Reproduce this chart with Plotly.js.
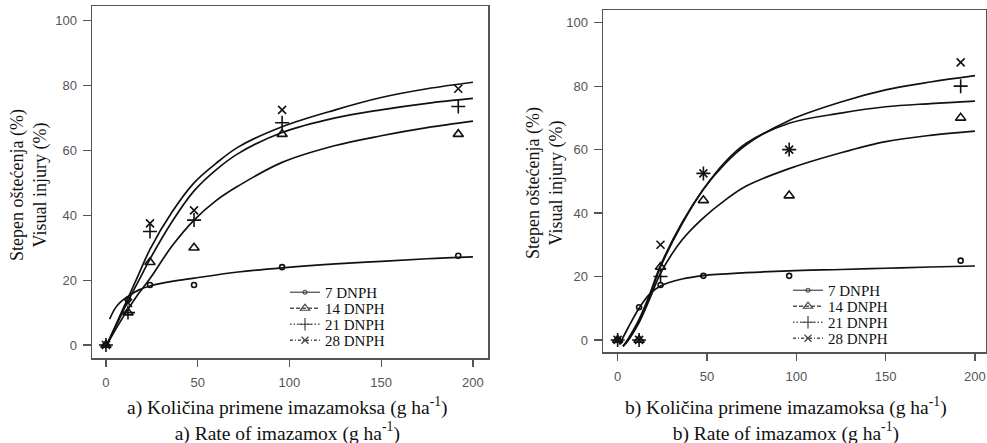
<!DOCTYPE html>
<html>
<head>
<meta charset="utf-8">
<script src="https://cdn.plot.ly/plotly-3.0.1.min.js"></script>
<style>html,body{margin:0;padding:0;background:#fff;}#chart{width:987px;height:443px;}</style>
</head>
<body>
<div id="chart"></div>
<script>
// ---- Data ----
const doses = [0, 12, 24, 48, 96, 192];
const seriesNames = ["7 DNPH", "14 DNPH", "21 DNPH", "28 DNPH"];

// Panel a) observed points
const obsA7  = [0, 14, 18.5, 18.5, 24, 27.5];
const obsA14 = [0, 10, 25.5, 30, 65, 65];
const obsA21 = [0, 10, 35, 38.5, 68.5, 73.5];
const obsA28 = [0, 13, 37.5, 41.5, 72.5, 79];

// Panel b) observed points
const obsB7  = [0, 10.3, 17.3, 20.2, 20.2, 25];
const obsB14 = [0, 0, 23, 44, 45.5, 70];
const obsB21 = [0, 0, 20, 52.5, 60, 80];
const obsB28 = [0, 0, 30, 52.5, 60, 87.5];

// Fitted curves
const fitXA7 = [2, 5, 8, 12, 18, 24, 36, 48, 72, 96, 125, 150, 175, 200];
const fitYA7 = [8, 11.3, 13.3, 15, 17, 18.2, 19.6, 20.6, 22.5, 23.8, 25, 25.8, 26.6, 27.2];
const fitXA = [0, 6, 12, 18, 24, 36, 48, 60, 72, 96, 125, 150, 175, 200];
const fitYA14 = [-0.5, 5.5, 11, 16, 20.5, 30.5, 38.5, 44.5, 49, 56.3, 61.5, 64.5, 67, 69];
const fitYA21 = [-0.5, 6.5, 13.5, 20, 26.5, 38, 47.5, 54, 59, 65.5, 70, 72.5, 74.5, 76];
const fitYA28 = [-0.5, 7, 14.5, 22, 29.5, 41, 50, 56, 61, 67.3, 72.5, 76.3, 79, 81];

const fitXB7 = [1, 6, 12, 18, 24, 36, 48, 72, 96, 125, 150, 175, 200];
const fitYB7 = [-1.5, 4, 10, 14.5, 17, 19.2, 20.3, 21.2, 21.8, 22.2, 22.6, 23, 23.3];
const fitXB = [3, 6, 12, 18, 24, 36, 48, 60, 72, 96, 125, 150, 175, 200];
const fitYB14 = [-2, 0, 5.5, 13, 21, 31.5, 38.5, 44, 48.5, 54, 59, 62.5, 64.5, 65.8];
const fitYB21 = [-2, 0.5, 6.5, 14.5, 23.5, 37, 47.5, 56, 62, 68.3, 71.5, 73.5, 74.5, 75.3];
const fitYB28 = [-2, 0, 6, 14, 23, 36.5, 47.5, 55.5, 61.5, 69.2, 75, 78.8, 81.3, 83.3];

const xTicks = [0, 50, 100, 150, 200];
const yTicks = [0, 20, 40, 60, 80, 100];

// ---- Styles ----
const markerDefs = [
  {symbol: "circle-open", size: 5},
  {symbol: "triangle-up-open", size: 9},
  {symbol: "cross-thin-open", size: 10},
  {symbol: "x-thin-open", size: 8}
];
const legendDash = ["solid", "4px,2px", "1.5px,2px", "3px,2px,1px,2px"];
const obsA = [obsA7, obsA14, obsA21, obsA28];
const obsB = [obsB7, obsB14, obsB21, obsB28];

function curve(x, y, xa, ya) {
  return {x: x, y: y, xaxis: xa, yaxis: ya, mode: "lines", type: "scatter",
    line: {color: "#111", width: 1.7, shape: "spline", smoothing: 1},
    showlegend: false, hoverinfo: "skip"};
}
function points(y, i, xa, ya) {
  return {x: doses, y: y, xaxis: xa, yaxis: ya, mode: "markers", type: "scatter",
    marker: {symbol: markerDefs[i].symbol, size: markerDefs[i].size, color: "#111",
      line: {color: "#111", width: 1.6}},
    showlegend: false};
}
// legend-key traces live on a hidden helper axis pair so only their legend keys show
function legendItem(y, i, xa, ya, leg) {
  return {x: doses, y: y, xaxis: xa, yaxis: ya, mode: "lines+markers", type: "scatter",
    name: seriesNames[i], legend: leg, showlegend: true, cliponaxis: true,
    line: {color: "#555", width: 1.3, dash: legendDash[i]},
    marker: {symbol: markerDefs[i].symbol, size: markerDefs[i].size - 1, color: "#444",
      line: {color: "#444", width: 1.2}}};
}

const traces = [
  curve(fitXA7, fitYA7, "x", "y"),
  curve(fitXA, fitYA14, "x", "y"),
  curve(fitXA, fitYA21, "x", "y"),
  curve(fitXA, fitYA28, "x", "y"),
  points(obsA7, 0, "x", "y"),
  points(obsA14, 1, "x", "y"),
  points(obsA21, 2, "x", "y"),
  points(obsA28, 3, "x", "y"),
  curve(fitXB7, fitYB7, "x2", "y2"),
  curve(fitXB, fitYB14, "x2", "y2"),
  curve(fitXB, fitYB21, "x2", "y2"),
  curve(fitXB, fitYB28, "x2", "y2"),
  points(obsB7, 0, "x2", "y2"),
  points(obsB14, 1, "x2", "y2"),
  points(obsB21, 2, "x2", "y2"),
  points(obsB28, 3, "x2", "y2")
];
for (let i = 0; i < 4; i++) traces.push(legendItem(obsA[i], i, "x3", "y3", "legend"));
for (let i = 0; i < 4; i++) traces.push(legendItem(obsB[i], i, "x3", "y3", "legend2"));

const W = 987, H = 443;
const px = v => v / W;
const py = v => 1 - v / H;
const tickFont = {family: "Liberation Sans, Arial, sans-serif", size: 13, color: "#555"};
const titleFontY = {family: "Liberation Serif, Times New Roman, serif", size: 18, color: "#111"};
const titleFontX = {family: "Liberation Serif, Times New Roman, serif", size: 19.5, color: "#111"};
const legFont = {family: "Liberation Serif, Times New Roman, serif", size: 15, color: "#111"};
const LEGEND_STEP = 16;

function xAxis(domain, range, anchor) {
  return {domain: domain, range: range, anchor: anchor, tickvals: xTicks, ticks: "outside",
    ticklen: 7, tickwidth: 1.2, tickcolor: "#555", showline: true, mirror: true,
    linecolor: "#555", linewidth: 1.5, showgrid: false, zeroline: false,
    tickfont: tickFont, ticklabelstandoff: 5, fixedrange: true};
}
function yAxis(domain, range, anchor) {
  return {domain: domain, range: range, anchor: anchor, tickvals: yTicks, ticks: "outside",
    ticklen: 8, tickwidth: 1.2, tickcolor: "#555", showline: true, mirror: true,
    linecolor: "#555", linewidth: 1.5, showgrid: false, zeroline: false,
    tickfont: tickFont, ticklabelstandoff: 3, fixedrange: true};
}

const layout = {
  width: W, height: H, margin: {l: 0, r: 0, t: 0, b: 0},
  paper_bgcolor: "#fff", plot_bgcolor: "#fff", showlegend: true,
  xaxis: xAxis([px(92), px(488)], [-7.6, 208.2], "y"),
  yaxis: yAxis([1 - 358 / H, 1 - 6 / H], [-4, 104.5], "x"),
  xaxis2: xAxis([px(603), px(985.5)], [-8.2, 205.9], "y2"),
  yaxis2: yAxis([1 - 352 / H, 1 - 10 / H], [-3.8, 104], "x2"),
  // hidden helper axes: range excludes the data so the legend-key traces are not drawn
  xaxis3: {domain: [0, 0.002], range: [-1000, -999], visible: false, anchor: "y3", fixedrange: true},
  yaxis3: {domain: [0, 0.002], range: [-1000, -999], visible: false, anchor: "x3", fixedrange: true},
  legend: {x: px(285), y: py(276), xanchor: "left", yanchor: "top", bgcolor: "rgba(0,0,0,0)",
    font: legFont, itemwidth: 30, tracegroupgap: 0, borderwidth: 0},
  legend2: {x: px(788), y: py(274), xanchor: "left", yanchor: "top", bgcolor: "rgba(0,0,0,0)",
    font: legFont, itemwidth: 30, tracegroupgap: 0, borderwidth: 0},
  annotations: [
    {text: "Stepen oštećenja (%)<br>Visual injury (%)", textangle: -90, showarrow: false,
      xref: "paper", yref: "paper", x: px(29), y: py(185), xanchor: "center", yanchor: "middle",
      font: titleFontY},
    {text: "a) Količina primene imazamoksa (g ha<sup>-1</sup>)<br>a) Rate of imazamox (g ha<sup>-1</sup>)",
      showarrow: false, xref: "paper", yref: "paper", x: px(287), y: py(419),
      xanchor: "center", yanchor: "middle", font: titleFontX},
    {text: "Stepen oštećenja (%)<br>Visual injury (%)", textangle: -90, showarrow: false,
      xref: "paper", yref: "paper", x: px(545), y: py(183), xanchor: "center", yanchor: "middle",
      font: titleFontY},
    {text: "b) Količina primene imazamoksa (g ha<sup>-1</sup>)<br>b) Rate of imazamox (g ha<sup>-1</sup>)",
      showarrow: false, xref: "paper", yref: "paper", x: px(786), y: py(419),
      xanchor: "center", yanchor: "middle", font: titleFontX}
  ]
};

function tightenLegends(gd) {
  const roots = gd.querySelectorAll("g.legend, g.legend2");
  roots.forEach(function (root) {
    const items = Array.from(root.querySelectorAll("g.traces"));
    if (!items.length) return;
    const parents = Array.from(new Set(items.map(function (g) { return g.parentNode; })));
    const targets = parents.length === 1 ? items : parents;
    let y0 = null;
    targets.forEach(function (g, k) {
      const m = /translate\(\s*([-\d.e]+)[ ,]+([-\d.e]+)\s*\)/.exec(g.getAttribute("transform") || "");
      if (!m) return;
      const x = parseFloat(m[1]), y = parseFloat(m[2]);
      if (y0 === null) y0 = y;
      g.setAttribute("transform", "translate(" + x + "," + (y0 + k * LEGEND_STEP) + ")");
    });
  });
}

Plotly.newPlot("chart", traces, layout, {displayModeBar: false, staticPlot: true})
  .then(tightenLegends);
</script>
</body>
</html>
